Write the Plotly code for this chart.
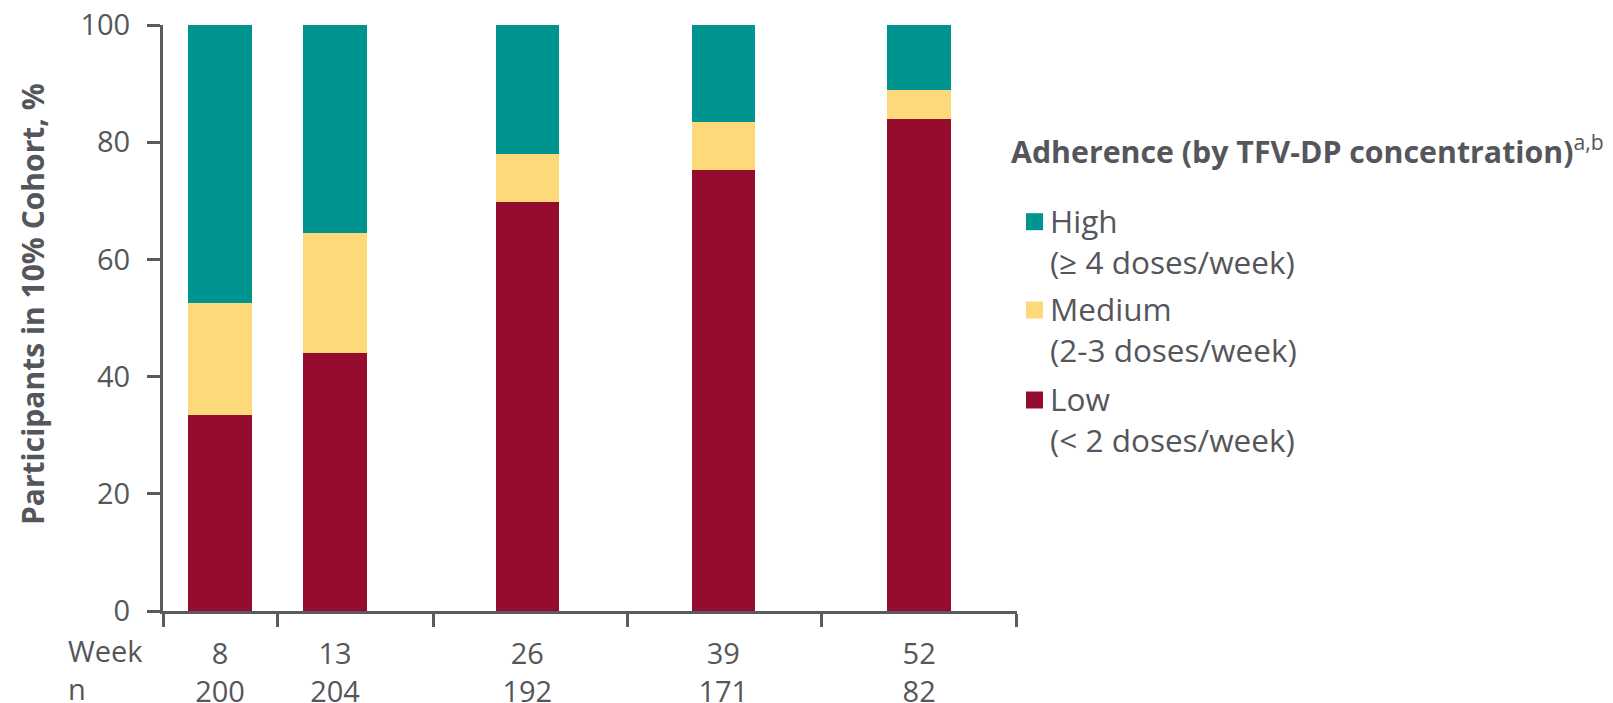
import plotly.graph_objects as go

# Adherence by TFV-DP concentration, 10% cohort
weeks = ["8", "13", "26", "39", "52"]
n_participants = ["200", "204", "192", "171", "82"]
low = [33.5, 44.0, 69.8, 75.3, 84.0]
medium = [19.0, 20.5, 8.2, 8.2, 4.9]
high = [47.5, 35.5, 22.0, 16.5, 11.1]

series = [
    ("Low", "(< 2 doses/week)", low, "#960C2E"),
    ("Medium", "(2-3 doses/week)", medium, "#FDD97A"),
    ("High", "(\u2265 4 doses/week)", high, "#009491"),
]

# Layout: pixel geometry of the plotting area and the x slots
W, H = 1613, 703
PL, PR, PT, PB = 163, 1017, 25, 611
slot_edges = [0, 114, 270, 464, 658.5, 853.5]
bar_centers = [57, 172, 364.3, 560.3, 756.2]
bar_width = 63.5

TEXT = "#55565B"
AXIS = "#5A5A60"
FONT = "Open Sans"


def px_x(px):
    return (px - PL) / (PR - PL)


def px_y(py):
    return (PB - py) / (PB - PT)


fig = go.Figure()
for name, sub, vals, color in series:
    fig.add_trace(go.Bar(
        x=bar_centers, y=vals, width=bar_width, name=name,
        marker=dict(color=color, line=dict(width=0)),
        showlegend=False,
        hovertemplate=name + ": %{y}%<extra></extra>",
    ))

tick_text = [f"{w}<br>{n}" for w, n in zip(weeks, n_participants)]

fig.update_layout(
    width=W, height=H,
    margin=dict(l=PL, r=W - PR, t=PT, b=H - PB, autoexpand=False),
    barmode="stack",
    plot_bgcolor="white", paper_bgcolor="white",
    font=dict(family=FONT, color=TEXT, size=29),
    xaxis=dict(
        range=[0, PR - PL], showgrid=False, zeroline=False, automargin=False,
        showline=True, linecolor=AXIS, linewidth=3,
        tickvals=bar_centers, ticktext=tick_text, ticks="",
        ticklabelstandoff=15,
        tickfont=dict(size=29, color=TEXT),
        minor=dict(tickvals=slot_edges, ticks="outside", ticklen=13,
                   tickwidth=3, tickcolor=AXIS, showgrid=False),
    ),
    yaxis=dict(
        range=[0, 100], showgrid=False, zeroline=False, automargin=False,
        showline=True, linecolor=AXIS, linewidth=3,
        tickvals=[0, 20, 40, 60, 80, 100], ticks="outside",
        ticklen=13, tickwidth=3, tickcolor=AXIS,
        ticklabelstandoff=11,
        tickfont=dict(size=29, color=TEXT),
    ),
)

annotations = [
    dict(text="<b>Participants in 10% Cohort, %</b>", textangle=-90,
         xref="paper", yref="paper", x=px_x(32), y=px_y(304),
         xanchor="center", yanchor="middle", showarrow=False,
         font=dict(size=30, color=TEXT)),
    dict(text="Week<br>n", xref="paper", yref="paper",
         x=px_x(66), y=px_y(629), xanchor="left", yanchor="top",
         align="left", showarrow=False, font=dict(size=29, color=TEXT)),
    dict(text="<b>Adherence (by TFV-DP concentration)</b><sup>a,b</sup>",
         xref="paper", yref="paper", x=px_x(1009), y=px_y(150),
         xanchor="left", yanchor="middle", align="left", showarrow=False,
         font=dict(size=30.3, color=TEXT)),
]

# Hand-drawn legend: colour swatch plus two-line label
legend_rows = [(221.7, series[2]), (310.0, series[1]), (400.0, series[0])]
shapes = []
for cy, (name, sub, _, color) in legend_rows:
    shapes.append(dict(type="rect", xref="paper", yref="paper",
                       x0=px_x(1026), x1=px_x(1043),
                       y0=px_y(cy + 8.5), y1=px_y(cy - 8.5),
                       fillcolor=color, line=dict(width=0)))
    annotations.append(dict(text=f"{name}<br>{sub}", xref="paper", yref="paper",
                            x=px_x(1048), y=px_y(cy + 19), xanchor="left",
                            yanchor="middle", align="left", showarrow=False,
                            font=dict(size=31.5, color=TEXT)))

fig.update_layout(annotations=annotations, shapes=shapes)
fig.write_html("out.html")
